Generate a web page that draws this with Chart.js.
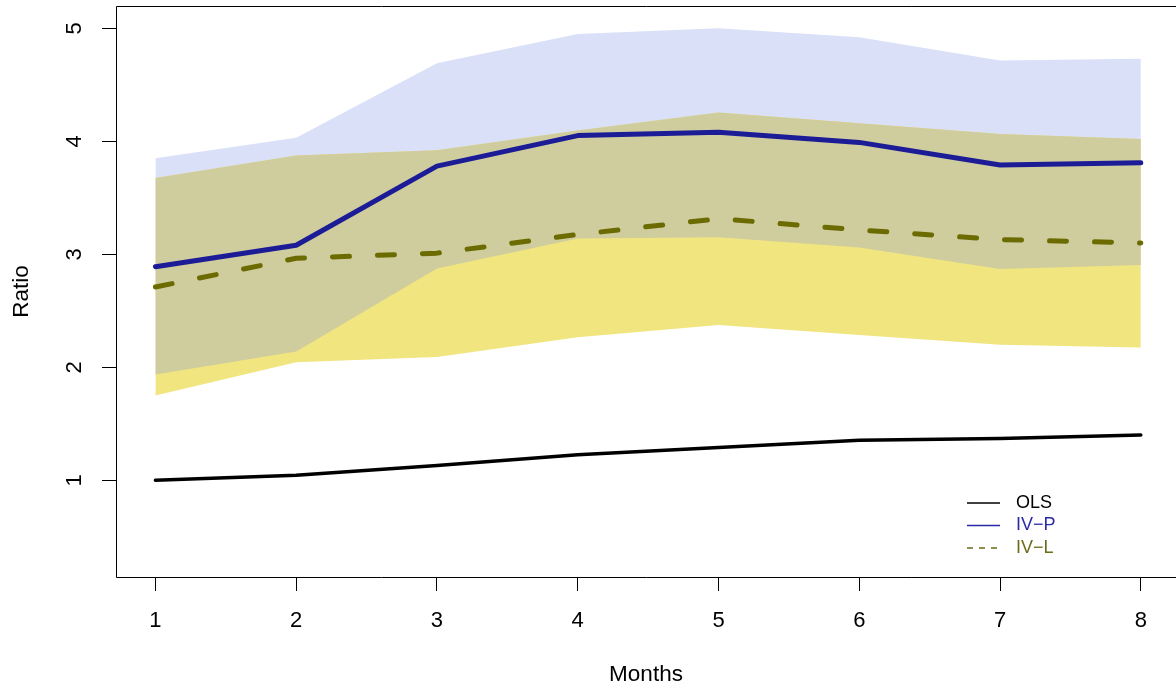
<!DOCTYPE html>
<html>
<head>
<meta charset="utf-8">
<script src="https://cdn.jsdelivr.net/npm/chart.js@4"></script>
<style>
  html, body { margin: 0; padding: 0; background: #fff; overflow: hidden; }
  #wrap { width: 1176px; height: 688px; }
</style>
</head>
<body>
<div id="wrap"><canvas id="grafico"></canvas></div>
<script>
// dados
const months = [1, 2, 3, 4, 5, 6, 7, 8];
const ols = [1.00, 1.045, 1.13, 1.225, 1.29, 1.355, 1.37, 1.40];
const ivP = [2.89, 3.08, 3.78, 4.05, 4.08, 3.99, 3.79, 3.81];
const ivL = [2.71, 2.965, 3.01, 3.175, 3.315, 3.215, 3.13, 3.10];
const ivPUpper = [3.85, 4.03, 4.69, 4.95, 5.00, 4.92, 4.715, 4.73];
const ivPLower = [1.935, 2.14, 2.875, 3.14, 3.15, 3.06, 2.87, 2.905];
const ivLUpper = [3.675, 3.875, 3.92, 4.095, 4.255, 4.16, 4.065, 4.02];
const ivLLower = [1.75, 2.045, 2.09, 2.265, 2.375, 2.285, 2.20, 2.175];
const xTicks = [1, 2, 3, 4, 5, 6, 7, 8];
const yTicks = [1, 2, 3, 4, 5];

const fonte = "'Liberation Sans', Arial, sans-serif";
const corP = '#1c1c96';
const corL = '#6b6b00';

function pts(arr) {
    return months.map((m, i) => ({ x: m, y: arr[i] }));
}

function banda(arr, cor, fill, order) {
    return {
        data: pts(arr),
        borderWidth: 0,
        pointRadius: 0,
        backgroundColor: cor,
        fill: fill,
        order: order
    };
}

// caixa e legenda no estilo R
const caixa = {
    id: 'caixa',
    afterDraw(chart) {
        const { ctx, chartArea: a } = chart;
        ctx.save();
        ctx.strokeStyle = '#000';
        ctx.lineWidth = 1;
        ctx.beginPath();
        ctx.moveTo(1180, a.top + 0.5);
        ctx.lineTo(a.left + 0.5, a.top + 0.5);
        ctx.lineTo(a.left + 0.5, a.bottom + 0.5);
        ctx.lineTo(1180, a.bottom + 0.5);
        ctx.stroke();

        const itens = [
            { txt: 'OLS', cor: '#000', dash: [] },
            { txt: 'IV\u2212P', cor: '#2a2aa6', dash: [] },
            { txt: 'IV\u2212L', cor: '#6b6b1a', dash: [6, 6] }
        ];
        ctx.font = '18px ' + fonte;
        ctx.textBaseline = 'middle';
        itens.forEach((it, i) => {
            const y = 503 + i * 22.5;
            ctx.strokeStyle = it.cor;
            ctx.lineWidth = 1.5;
            ctx.setLineDash(it.dash);
            ctx.beginPath();
            ctx.moveTo(967, y);
            ctx.lineTo(1000, y);
            ctx.stroke();
            ctx.setLineDash([]);
            ctx.fillStyle = it.cor;
            ctx.fillText(it.txt, 1016, y);
        });
        ctx.restore();
    }
};

const ctx = document.getElementById('grafico').getContext('2d');
const grafico = new Chart(ctx, {
    type: 'line',
    data: {
        datasets: [
            {
                label: 'IV-P', data: pts(ivP), borderColor: corP, borderWidth: 5,
                pointRadius: 0, fill: false, order: 1,
                borderCapStyle: 'round', borderJoinStyle: 'round'
            },
            {
                label: 'IV-L', data: pts(ivL), borderColor: corL, borderWidth: 5,
                pointRadius: 0, fill: false, order: 2, borderDash: [17, 28],
                borderCapStyle: 'round', borderJoinStyle: 'round'
            },
            {
                label: 'OLS', data: pts(ols), borderColor: '#000', borderWidth: 3.5,
                pointRadius: 0, fill: false, order: 3,
                borderCapStyle: 'round', borderJoinStyle: 'round'
            },
            banda(ivLUpper, '#cfcc9e', '+1', 4),   // sobreposição
            banda(ivPLower, 'rgba(0,0,0,0)', false, 5),
            banda(ivLUpper, '#f1e580', '+1', 6),
            banda(ivLLower, 'rgba(0,0,0,0)', false, 7),
            banda(ivPUpper, '#d9e0f8', '+1', 8),
            banda(ivPLower, 'rgba(0,0,0,0)', false, 9)
        ]
    },
    options: {
        responsive: true,
        maintainAspectRatio: false,
        animation: false,
        layout: { padding: { top: 6, right: 0, left: 0, bottom: 0 } },
        plugins: {
            legend: { display: false },
            tooltip: { enabled: false }
        },
        scales: {
            x: {
                type: 'linear',
                min: 0.72,
                max: 8.25,
                afterBuildTicks: (s) => { s.ticks = xTicks.map(v => ({ value: v })); },
                afterFit: (s) => { s.height = 111; s.paddingLeft = 0; s.paddingRight = 0; },
                grid: { drawOnChartArea: false, tickLength: 14, color: '#000' },
                border: { display: false },
                ticks: { color: '#000', font: { family: fonte, size: 22 }, padding: 17, maxRotation: 0 },
                title: {
                    display: true, text: 'Months', color: '#000',
                    font: { family: fonte, size: 22.5 }, padding: { top: 0, bottom: 0 }
                }
            },
            y: {
                min: 0.144,
                max: 5.197,
                afterBuildTicks: (s) => { s.ticks = yTicks.map(v => ({ value: v })); },
                afterFit: (s) => { s.width = 116; s.paddingTop = 0; s.paddingBottom = 0; },
                grid: { drawOnChartArea: false, tickLength: 14, color: '#000' },
                border: { display: false },
                ticks: {
                    color: '#000', font: { family: fonte, size: 22 }, padding: 21,
                    minRotation: 90, maxRotation: 90, crossAlign: 'center'
                },
                title: {
                    display: true, text: 'Ratio', color: '#000',
                    font: { family: fonte, size: 22.5 }, padding: { top: 8, bottom: 0 }
                }
            }
        }
    },
    plugins: [caixa]
});
</script>
</body>
</html>
